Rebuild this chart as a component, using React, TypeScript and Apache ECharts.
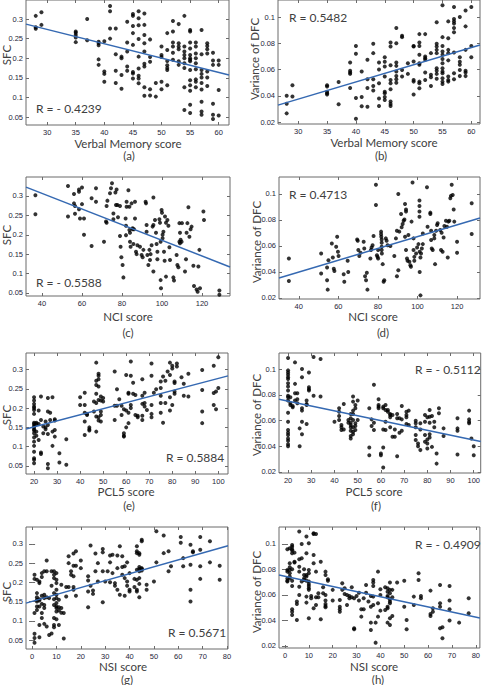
import React, { useEffect, useRef } from "react";
import * as echarts from "echarts";

// ---------- data ----------
const verbalSfc = [
  [28,0.308],[28,0.279],[28,0.275],[29,0.317],[29,0.285],
  [35,0.268],[35,0.265],[35,0.259],[35,0.253],[35,0.241],
  [37,0.30],[37,0.246],
  [39,0.242],[39,0.238],[39,0.233],[39,0.197],[39,0.183],
  [40,0.243],[40,0.166],[40,0.160],[40,0.14],
  [41,0.333],[41,0.32],[41,0.276],[41,0.25],
  [42,0.276],[42,0.21],[42,0.168],[42,0.137],
  [43,0.204],[43,0.20],[43,0.157],[43,0.122],
  [44,0.293],[44,0.24],[44,0.217],[44,0.179],[44,0.168],
  [45,0.313],[45,0.308],[45,0.282],[45,0.264],[45,0.234],[45,0.165],[45,0.161],[45,0.148],
  [46,0.32],[46,0.302],[46,0.284],[46,0.249],[46,0.204],[46,0.174],[46,0.155],[46,0.148],[46,0.136],
  [47,0.314],[47,0.285],[47,0.259],[47,0.238],[47,0.217],[47,0.186],[47,0.179],[47,0.126],[47,0.104],
  [48,0.248],[48,0.203],[48,0.191],[48,0.121],[48,0.105],
  [49,0.137],[49,0.102],
  [50,0.23],[50,0.208],[50,0.203],[50,0.14],[50,0.121],
  [51,0.264],[51,0.221],[51,0.193],[51,0.182],[51,0.175],[51,0.17],[51,0.131],
  [52,0.295],[52,0.268],[52,0.24],[52,0.23],[52,0.214],[52,0.196],
  [53,0.287],[53,0.238],[53,0.23],[53,0.223],[53,0.192],[53,0.183],
  [54,0.308],[54,0.23],[54,0.217],[54,0.208],[54,0.2],[54,0.187],[54,0.175],[54,0.126],[54,0.068],
  [55,0.272],[55,0.268],[55,0.24],[55,0.225],[55,0.208],[55,0.2],[55,0.196],[55,0.192],[55,0.17],[55,0.144],[55,0.131],[55,0.117],[55,0.081],[55,0.06],
  [56,0.24],[56,0.23],[56,0.212],[56,0.2],[56,0.187],[56,0.172],[56,0.146],[56,0.14],[56,0.126],
  [57,0.272],[57,0.21],[57,0.17],[57,0.16],[57,0.151],[57,0.137],[57,0.12],[57,0.089],[57,0.064],[57,0.056],
  [58,0.238],[58,0.231],[58,0.223],[58,0.212],[58,0.166],[58,0.151],[58,0.129],
  [59,0.214],[59,0.194],[59,0.183],[59,0.084],[59,0.056],[59,0.045],
  [60,0.194],[60,0.183],[60,0.119],[60,0.054],
];

const verbalDfc = [
  [28,0.040],[28,0.034],[28,0.0266],[29,0.048],[29,0.0394],
  [35,0.048],[35,0.047],[35,0.043],[35,0.042],[35,0.041],
  [37,0.0505],[37,0.0335],
  [39,0.0653],[39,0.059],[39,0.0577],[39,0.0567],[39,0.046],
  [40,0.078],[40,0.072],[40,0.0383],[40,0.0225],
  [41,0.0585],[41,0.039],[41,0.032],
  [42,0.0674],[42,0.0526],[42,0.046],[42,0.0317],
  [43,0.0796],[43,0.0725],[43,0.0526],[43,0.0475],[43,0.044],
  [44,0.0653],[44,0.060],[44,0.0496],[44,0.038],[44,0.0322],
  [45,0.0694],[45,0.066],[45,0.0623],[45,0.0547],[45,0.043],[45,0.042],[45,0.039],[45,0.0368],
  [46,0.0806],[46,0.0776],[46,0.0633],[46,0.052],[46,0.0496],[46,0.045],[46,0.0356],[46,0.0338],[46,0.0322],
  [47,0.0916],[47,0.080],[47,0.0653],[47,0.0628],[47,0.0585],[47,0.055],[47,0.0526],[47,0.050],
  [48,0.0857],[48,0.0847],[48,0.0597],[48,0.0547],
  [49,0.0648],[49,0.0567],
  [50,0.078],[50,0.0776],[50,0.0661],[50,0.052],[50,0.0508],[50,0.041],
  [51,0.087],[51,0.0806],[51,0.078],[51,0.0712],[51,0.0648],[51,0.0636],[51,0.0508],[51,0.0496],[51,0.0457],
  [52,0.087],[52,0.070],[52,0.0687],[52,0.0674],[52,0.0577],[52,0.052],
  [53,0.0725],[53,0.056],[53,0.0541],[53,0.0475],
  [54,0.096],[54,0.0796],[54,0.0776],[54,0.075],[54,0.0725],[54,0.061],[54,0.059],[54,0.0567],[54,0.053],
  [55,0.109],[55,0.0847],[55,0.078],[55,0.0738],[55,0.0712],[55,0.068],[55,0.0648],[55,0.061],[55,0.0585],[55,0.0572],[55,0.0534],[55,0.0508],[55,0.049],
  [56,0.0967],[56,0.0839],[56,0.075],[56,0.0725],[56,0.067],[56,0.0547],[56,0.052],[56,0.0508],
  [57,0.1076],[57,0.0985],[57,0.0967],[57,0.095],[57,0.0916],[57,0.0885],[57,0.073],[57,0.0572],[57,0.0526],
  [58,0.100],[58,0.0694],[58,0.066],[58,0.0636],[58,0.0597],[58,0.055],
  [59,0.105],[59,0.0929],[59,0.075],[59,0.059],[59,0.0577],[59,0.055],
  [60,0.1076],[60,0.078],[60,0.0694],
];

const nciSfc = [
  [36.7,0.302],[36.7,0.253],[53,0.326],[53,0.247],
  [56,0.305],[56,0.281],[56.5,0.274],[56.5,0.254],
  [58.5,0.317],[58.5,0.311],[58.5,0.266],[59,0.242],
  [60,0.322],[60,0.279],[61,0.242],[61,0.20],
  [64.8,0.294],[64.8,0.171],[67,0.32],[67,0.285],
  [71,0.182],[72,0.234],[72.3,0.231],[72.3,0.274],[72.7,0.288],
  [74,0.307],[74.5,0.32],[75,0.333],[75.7,0.255],[75.7,0.24],
  [76.7,0.309],[77,0.277],[77.3,0.317],[77.7,0.277],[78,0.245],
  [79,0.274],[79,0.197],[79.3,0.169],[79.7,0.142],[80.3,0.122],[80.7,0.09],
  [81.8,0.242],[82,0.223],[82,0.199],[82.3,0.285],[82.3,0.272],
  [83.2,0.315],[83.7,0.272],[83.7,0.212],[84,0.205],[84,0.182],[84.3,0.169],
  [84.8,0.281],[85.3,0.214],[85.3,0.217],[85.7,0.176],[86,0.214],
  [86.5,0.285],[86.5,0.242],[87,0.156],[87.3,0.15],[87.7,0.173],
  [89,0.169],[89.8,0.148],[90.3,0.142],[90.7,0.161],
  [91.8,0.285],[92,0.281],[92.3,0.225],[92.3,0.208],[92.7,0.148],[93.2,0.122],
  [93.7,0.161],[94,0.135],[94.3,0.15],[94.8,0.173],[95.3,0.221],[95.7,0.296],[95.7,0.225],[95.7,0.105],
  [96.5,0.238],[97,0.205],[97.3,0.176],[97.7,0.156],[97.7,0.137],
  [98.7,0.24],[99,0.231],[99.3,0.182],[99.3,0.083],[99.5,0.062],[99.8,0.264],[100,0.257],
  [100.3,0.2],[100.3,0.191],[100.7,0.208],[101,0.156],[101.3,0.133],[101.5,0.247],[102,0.231],[102,0.092],
  [102.7,0.238],[103.2,0.223],[103.7,0.168],[104,0.135],
  [105.7,0.09],[106,0.082],
  [107.3,0.148],[107.7,0.122],[108.2,0.116],[108.7,0.23],[108.7,0.182],[109,0.205],[109,0.178],[109.3,0.187],[109.8,0.182],[110,0.23],
  [111.5,0.105],[112,0.137],[112.3,0.205],[112.7,0.23],[113.2,0.271],[113.7,0.195],
  [114.3,0.214],[114.8,0.221],[115.7,0.12],[116,0.068],[117.3,0.059],[117.8,0.053],[118.2,0.118],[118.7,0.161],[119,0.062],
  [120.7,0.26],[121,0.238],
  [128.7,0.056],[128.7,0.045],
];

const nciDfc = [
  [35,0.0504],[35,0.0331],[51.3,0.0542],[51.3,0.0388],
  [54.3,0.0434],[55,0.049],[54.3,0.0336],[54.6,0.0264],
  [56.7,0.0619],[57.2,0.0511],[57.7,0.0424],[58,0.0408],
  [58.9,0.0594],[59.4,0.067],[59.8,0.0555],[60.1,0.0522],
  [62.7,0.0383],[63,0.0324],[64.7,0.0486],[65,0.040],
  [69.5,0.065],[69.8,0.064],[70.1,0.0568],[70.6,0.0522],[71.2,0.0547],
  [72.8,0.0632],[73.1,0.058],[73.5,0.0367],[74,0.0336],[74.4,0.0393],[74.7,0.0264],
  [76.2,0.0504],[76.5,0.0568],[76.8,0.0588],[77.3,0.0606],[77.8,0.0676],
  [79,0.107],[79,0.0915],[79.5,0.0529],[79.8,0.0516],[80.1,0.0568],[80.1,0.0504],
  [81.6,0.071],[81.6,0.069],[81.7,0.067],[81.9,0.065],[81.9,0.0624],[81.9,0.0594],[81.9,0.0568],[82,0.0542],[82.4,0.046],[82.9,0.0324],[83.2,0.0336],
  [84,0.0658],[84.4,0.064],[84.9,0.0606],[86.3,0.0599],
  [88.3,0.0522],[89.1,0.0658],[89.6,0.0717],[89.6,0.0367],[90.3,0.0413],[90.3,0.1],[90.8,0.071],
  [91.7,0.0846],[92,0.0743],[92.5,0.0769],[93,0.0794],[93.4,0.0804],[93.7,0.0923],[94.2,0.088],[94.2,0.0864],[93.7,0.067],[94.2,0.0568],[94.7,0.0504],
  [95,0.0486],[95.4,0.0684],[95.9,0.0478],[96.4,0.0452],[96.7,0.044],[97,0.0787],[97.5,0.1087],[98,0.0658],[98,0.0568],[98.4,0.0516],[98.4,0.0486],
  [99.3,0.0542],[99.8,0.0588],[100.5,0.0614],[101,0.0949],[101,0.0907],[101,0.0864],[101,0.0825],[101.1,0.0555],[101.5,0.0511],[101.1,0.040],[101.5,0.022],[101.8,0.0542],[102.2,0.0581],[102.7,0.0614],[102.7,0.0696],
  [104.8,0.1051],[105.1,0.0748],
  [106.5,0.0856],[106.5,0.0846],[106.9,0.0717],[106.9,0.0645],[107.2,0.058],[107.7,0.0568],
  [108.5,0.0684],[108.5,0.0658],[108.9,0.046],[109.4,0.0717],[109.9,0.0761],[110.2,0.0774],
  [111.5,0.0722],[111.9,0.0568],[112.2,0.0702],[112.7,0.0555],[113.2,0.0665],[113.6,0.0753],
  [114.4,0.0794],[114.9,0.0748],[115.3,0.0511],[115.6,0.0787],[116.1,0.0794],
  [116.6,0.0967],[116.9,0.0985],[117.3,0.107],[117.8,0.0992],[118.3,0.088],[118.6,0.0787],
  [120,0.0632],[120,0.0547],
  [127.4,0.0928],[127.4,0.0691],
];

const pclSfc = [
  [20,0.228],[20,0.22],[20,0.211],[20,0.204],[20,0.2],[20,0.195],[20,0.185],[20,0.162],[20,0.159],[20,0.154],[20,0.15],[20,0.145],[20,0.142],[20,0.135],[20,0.124],[20,0.113],[20,0.102],[20,0.087],[20,0.07],[20,0.066],[20,0.057],
  [21,0.162],[21,0.159],[21,0.139],[21,0.128],
  [22,0.194],[22,0.159],[22,0.117],
  [23,0.23],[23,0.169],[23,0.085],[23,0.081],
  [24,0.152],[24,0.135],
  [25,0.165],[25,0.15],[25,0.145],
  [26,0.226],[26,0.191],[26,0.156],[26,0.133],[26,0.055],[26,0.044],
  [27,0.188],[27,0.169],
  [28,0.228],[28,0.139],[28,0.102],
  [29,0.171],[29,0.168],[29,0.143],[29,0.126],
  [31,0.083],[31,0.059],
  [34,0.119],[34,0.053],
  [40,0.228],[40,0.208],
  [42,0.24],[42,0.208],[42,0.188],[42,0.165],[42,0.13],
  [43,0.185],[43,0.182],
  [44,0.15],[44,0.145],[44,0.142],
  [46,0.217],[46,0.191],
  [47,0.318],[47,0.271],[47,0.26],[47,0.237],[47,0.213],[47,0.178],[47,0.139],
  [48,0.289],[48,0.284],[48,0.275],[48,0.256],[48,0.221],[48,0.176],[48,0.168],
  [49,0.23],[49,0.22],[49,0.191],[49,0.182],[49,0.165],
  [50,0.226],[50,0.217],
  [55,0.295],[55,0.206],[55,0.169],
  [56,0.249],[56,0.206],
  [57,0.223],
  [58,0.206],[58,0.182],
  [59,0.197],[59,0.135],[59,0.128],[59,0.126],
  [60,0.286],[60,0.194],[60,0.15],
  [61,0.24],[61,0.237],[61,0.188],[61,0.161],
  [62,0.321],[62,0.284],[62,0.208],[62,0.2],
  [63,0.266],[63,0.237],
  [64,0.234],[64,0.182],
  [65,0.18],[65,0.176],
  [67,0.275],[67,0.232],[67,0.211],[67,0.18],[67,0.169],
  [68,0.24],[68,0.213],[68,0.204],
  [69,0.195],
  [71,0.316],[71,0.284],[71,0.208],[71,0.185],[71,0.176],
  [72,0.24],[73,0.249],
  [75,0.269],[75,0.252],[75,0.232],[75,0.213],[75,0.188],
  [76,0.282],[76,0.162],
  [77,0.271],[77,0.213],
  [78,0.295],
  [79,0.318],[79,0.286],[79,0.228],[79,0.194],
  [80,0.31],[80,0.303],[80,0.208],
  [81,0.269],[81,0.265],[81,0.243],[81,0.237],
  [82,0.316],[82,0.308],
  [84,0.28],
  [85,0.263],[85,0.232],
  [87,0.289],[87,0.23],
  [93,0.299],[93,0.247],[93,0.191],[93,0.161],
  [98,0.31],[98,0.239],[98,0.208],
  [99,0.243],[99,0.197],
  [100,0.332],[100,0.252],
];

const pclDfc = [
  [20,0.1086],[20,0.099],[20,0.0974],[20,0.0956],[20,0.0937],[20,0.0922],[20,0.089],[20,0.0865],[20,0.0833],[20,0.0792],[20,0.0781],[20,0.0755],[20,0.0661],[20,0.0591],[20,0.0526],[20,0.0505],[20,0.0487],[20,0.046],[20,0.0442],[20,0.0416],[20,0.04],
  [21,0.0781],[21,0.0734],[21,0.0721],
  [22,0.0713],[22,0.0703],
  [23,0.1052],[23,0.0885],[23,0.0812],[23,0.0755],
  [24,0.0812],[24,0.0765],[24,0.0734],
  [25,0.0539],[25,0.04],
  [26,0.1],[26,0.0937],[26,0.0695],[26,0.0677],[26,0.0591],[26,0.0494],
  [28,0.0755],[28,0.0729],[28,0.0721],[28,0.0573],
  [29,0.0974],[29,0.0859],[29,0.0844],[29,0.0833],
  [31,0.1094],[31,0.0792],
  [34,0.1078],[34,0.0786],
  [40,0.0591],
  [42,0.0695],[42,0.0669],[42,0.0635],[42,0.0604],
  [43,0.0565],[43,0.0547],[43,0.0526],
  [44,0.0729],[44,0.0531],
  [46,0.0604],[46,0.0583],
  [47,0.0651],[47,0.0617],[47,0.0583],[47,0.0565],[47,0.0547],[47,0.0521],[47,0.0479],[47,0.046],
  [48,0.0786],[48,0.0747],[48,0.0677],[48,0.0651],[48,0.0604],[48,0.0547],[48,0.0513],[48,0.0494],
  [49,0.0721],[49,0.0695],[49,0.0578],[49,0.0557],[49,0.0526],
  [50,0.0755],[50,0.0604],
  [55,0.0695],[55,0.039],[55,0.033],
  [56,0.0609],[56,0.0557],
  [57,0.0878],[57,0.0583],[57,0.0526],
  [59,0.0765],[59,0.0721],[59,0.0708],[59,0.0695],
  [60,0.0343],[60,0.033],
  [61,0.0708],[61,0.0695],[61,0.0531],[61,0.039],[61,0.0234],
  [62,0.0721],[62,0.0682],[62,0.0591],[62,0.0526],
  [63,0.0682],[63,0.0669],
  [64,0.0651],[64,0.0643],[64,0.0625],[64,0.0547],
  [65,0.0643],[65,0.0474],
  [66,0.0531],[66,0.0474],
  [67,0.0651],[67,0.0617],[67,0.0322],
  [68,0.0617],[68,0.0505],
  [69,0.0713],[69,0.0609],[69,0.0521],
  [71,0.0669],[71,0.0643],[71,0.0625],[71,0.0573],
  [72,0.0677],[72,0.0565],
  [75,0.0599],[75,0.0578],[75,0.0547],[75,0.0487],[75,0.0448],
  [76,0.0421],[76,0.04],
  [77,0.0578],[77,0.0531],[77,0.037],
  [79,0.0643],[79,0.0591],[79,0.0487],[79,0.0435],
  [80,0.0625],[80,0.0453],[80,0.0421],[80,0.0383],
  [81,0.0682],[81,0.063],[81,0.0583],[81,0.0494],[81,0.0468],
  [82,0.0635],[82,0.0395],
  [83,0.0591],[83,0.0547],
  [84,0.0343],[84,0.0265],
  [85,0.0695],[85,0.0656],
  [87,0.0539],[87,0.0479],
  [93,0.0617],[93,0.0539],[93,0.0521],[93,0.0336],
  [98,0.0677],[98,0.0609],[98,0.0591],[98,0.0578],
  [99,0.046],
  [100,0.04],[100,0.033],
];

const nsiSfc = [
  [1,0.22],[1,0.209],[1,0.12],[1,0.066],[1,0.055],[1,0.043],
  [2,0.207],[2,0.172],[2,0.161],[2,0.155],[2,0.15],[2,0.137],[2,0.128],
  [3,0.202],[3,0.198],[3,0.156],[3,0.153],[3,0.137],[3,0.089],[3,0.057],
  [4,0.224],[4,0.214],[4,0.165],[4,0.144],[4,0.12],[4,0.107],
  [5,0.229],[5,0.168],[5,0.159],[5,0.141],[5,0.133],[5,0.092],
  [6,0.257],[6,0.229],[6,0.161],[6,0.085],
  [7,0.159],[7,0.063],
  [8,0.229],[8,0.191],[8,0.067],
  [9,0.229],[9,0.22],[9,0.211],[9,0.172],[9,0.156],[9,0.141],[9,0.107],[9,0.089],[9,0.083],
  [10,0.224],[10,0.207],[10,0.198],[10,0.181],[10,0.168],[10,0.159],[10,0.146],[10,0.137],[10,0.133],[10,0.124],[10,0.104],
  [11,0.155],[11,0.135],[11,0.127],[11,0.089],
  [12,0.194],[12,0.133],[12,0.121],
  [13,0.12],[13,0.054],
  [14,0.188],[14,0.163],
  [15,0.268],[15,0.25],[15,0.188],
  [16,0.229],[16,0.22],
  [17,0.275],[17,0.243],[17,0.216],[17,0.188],[17,0.181],
  [18,0.281],[18,0.243],[18,0.165],
  [20,0.257],[20,0.237],
  [23,0.216],[23,0.205],[23,0.176],[23,0.135],
  [24,0.296],[24,0.191],
  [25,0.179],[25,0.17],
  [26,0.275],[26,0.229],
  [27,0.25],[27,0.202],
  [29,0.287],[29,0.278],[29,0.229],[29,0.148],
  [30,0.202],[31,0.229],
  [32,0.27],[32,0.252],[32,0.2],
  [33,0.272],[33,0.224],
  [34,0.198],[34,0.191],
  [35,0.27],[35,0.237],[35,0.181],
  [36,0.294],[36,0.168],
  [37,0.268],[37,0.24],[37,0.22],
  [38,0.242],[38,0.211],[38,0.165],
  [39,0.252],[39,0.202],[39,0.191],
  [40,0.224],[40,0.181],[40,0.176],
  [42,0.209],[42,0.188],
  [43,0.294],[43,0.281],[43,0.276],[43,0.233],[43,0.207],[43,0.181],[43,0.176],
  [44,0.276],[44,0.272],[44,0.24],[44,0.235],[44,0.229],[44,0.211],[44,0.196],[44,0.161],
  [45,0.311],[45,0.307],[45,0.237],[45,0.235],[45,0.231],
  [47,0.194],[47,0.181],
  [50,0.202],
  [51,0.333],[51,0.252],
  [54,0.322],[54,0.276],
  [56,0.281],[56,0.229],
  [57,0.242],
  [61,0.318],[61,0.303],
  [62,0.263],[62,0.242],
  [65,0.298],[65,0.246],[65,0.181],[65,0.15],
  [66,0.281],[66,0.278],
  [69,0.318],[69,0.285],[69,0.242],[69,0.209],
  [73,0.307],[73,0.252],
  [77,0.243],[77,0.207],
];

const nsiDfc = [
  [1,0.0958],[1,0.0796],[1,0.0783],[1,0.073],[1,0.0712],[1,0.0705],
  [2,0.0966],[2,0.0848],[2,0.0817],[2,0.0796],[2,0.077],[2,0.0744],[2,0.073],
  [3,0.0992],[3,0.0979],[3,0.0958],[3,0.0948],[3,0.0927],[3,0.0801],[3,0.0712],[3,0.0671],[3,0.0488],[3,0.0469],[3,0.0443],
  [4,0.0932],[4,0.0861],[4,0.0854],
  [5,0.0548],[5,0.0529],[5,0.0404],
  [6,0.1097],[6,0.088],[6,0.0822],[6,0.0783],[6,0.0665],[6,0.06],
  [7,0.1],[7,0.0888],[7,0.0705],
  [8,0.0801],[8,0.0757],[8,0.073],[8,0.0718],
  [9,0.1058],[9,0.0927],[9,0.0757],[9,0.0744],[9,0.0712],[9,0.0587],[9,0.054],
  [10,0.1005],[10,0.0796],[10,0.077],[10,0.0705],[10,0.0686],[10,0.0671],[10,0.0652],[10,0.064],[10,0.0417],
  [11,0.0592],[11,0.0574],
  [12,0.1084],[12,0.1078],[12,0.0914],[12,0.0848],[12,0.0496],
  [13,0.1078],[13,0.0783],[13,0.0582],[13,0.0522],
  [14,0.0613],[14,0.0582],
  [15,0.0861],[15,0.0409],
  [16,0.066],[16,0.0613],
  [17,0.0783],[17,0.0757],[17,0.06],[17,0.0556],[17,0.0529],[17,0.0514],[17,0.0503],
  [18,0.0723],[18,0.0712],
  [20,0.064],[20,0.0556],
  [23,0.0561],[23,0.0508],[23,0.0488],[23,0.0469],
  [24,0.0691],[24,0.064],
  [25,0.0652],[25,0.0608],
  [26,0.06],[26,0.0522],
  [27,0.0592],[27,0.0574],
  [28,0.066],[28,0.0582],
  [29,0.0574],[29,0.0339],[29,0.0331],
  [30,0.0592],
  [31,0.0618],[31,0.0556],
  [32,0.0488],[32,0.043],
  [33,0.0574],[33,0.0488],
  [34,0.0678],[34,0.0618],
  [35,0.0548],
  [36,0.0592],[36,0.0508],[36,0.0383],[36,0.0325],
  [37,0.0718],[37,0.0697],[37,0.0671],[37,0.0587],[37,0.0522],
  [38,0.0383],[38,0.0226],
  [39,0.0783],[39,0.0535],[39,0.043],
  [40,0.0644],[40,0.06],[40,0.0477],
  [42,0.066],[42,0.0482],
  [43,0.0652],[43,0.0626],[43,0.0592],[43,0.0582],[43,0.0508],[43,0.0496],[43,0.0383],
  [44,0.0697],[44,0.064],[44,0.0613],[44,0.0566],[44,0.0548],[44,0.0535],[44,0.0417],[44,0.0365],
  [45,0.064],[45,0.0582],[45,0.0435],
  [47,0.0697],
  [50,0.0712],[50,0.0508],
  [51,0.0404],[51,0.0331],
  [54,0.0587],[54,0.0522],
  [56,0.077],[56,0.0718],
  [57,0.0592],[57,0.0574],
  [61,0.0634],[61,0.0451],[61,0.0435],
  [62,0.0496],[62,0.0469],
  [65,0.0678],[65,0.0535],[65,0.0508],[65,0.0339],
  [66,0.0346],[66,0.026],
  [69,0.0671],[69,0.0556],[69,0.0488],[69,0.0399],
  [73,0.0383],
  [77,0.0574],[77,0.0456],
];

// regression line end points
const fitA = [[26.3,0.287],[61.8,0.157]];
const fitB = [[26.5,0.0329],[61.5,0.0787]];
const fitC = [[32,0.323],[134,0.117]];
const fitD = [[30,0.0354],[131.6,0.0815]];
const fitE = [[16.5,0.146],[104.2,0.2836]];
const fitF = [[16.1,0.0766],[103,0.0437]];
const fitG = [[-2.5,0.146],[80.4,0.295]];
const fitH = [[-2.5,0.0757],[81.7,0.042]];

// tick labels
const ticksVerbal = [30,35,40,45,50,55,60];
const ticksNci = [40,60,80,100,120];
const ticksPcl = [20,30,40,50,60,70,80,90,100];
const ticksNsi = [0,10,20,30,40,50,60,70,80];
const ticksSfc = [0.05,0.1,0.15,0.2,0.25,0.3];
const ticksDfc = [0.02,0.04,0.06,0.08,0.1];

const rLabels = ["R = - 0.4239","R = 0.5482","R = - 0.5588","R = 0.4713","R = 0.5884","R = - 0.5112","R = 0.5671","R = - 0.4909"];
const xTitles = ["Verbal Memory score","Verbal Memory score","NCI score","NCI score","PCL5 score","PCL5 score","NSI score","NSI score"];
const yTitles = ["SFC","Variance of DFC","SFC","Variance of DFC","SFC","Variance of DFC","SFC","Variance of DFC"];
const panelTags = ["(a)","(b)","(c)","(d)","(e)","(f)","(g)","(h)"];

// ---------- layout ----------
const panels = [
  { data: verbalSfc, fit: fitA, x: [26.3,61.8], y: [0.0296,0.3485], xt: ticksVerbal, yt: ticksSfc,
    g: { left: 26, top: 0, width: 203, height: 125 }, r: [36,108], xl: [128,143], tag: [129,155], yl: [6,55] },
  { data: verbalDfc, fit: fitB, x: [26.5,61.5], y: [0.0185,0.113], xt: ticksVerbal, yt: ticksDfc,
    g: { left: 278, top: 0, width: 202, height: 124 }, r: [289,17], xl: [384,142], tag: [381,155], yl: [254,59] },
  { data: nciSfc, fit: fitC, x: [32,134], y: [0.042,0.349], xt: ticksNci, yt: ticksSfc,
    g: { left: 26, top: 177, width: 204, height: 119 }, r: [36,282], xl: [128,316], tag: [128,332], yl: [6,235] },
  { data: nciDfc, fit: fitD, x: [30,131.6], y: [0.0192,0.113], xt: ticksNci, yt: ticksDfc,
    g: { left: 279, top: 177, width: 201, height: 122 }, r: [289,194], xl: [373,316], tag: [383,332], yl: [256,242] },
  { data: pclSfc, fit: fitE, x: [16.5,104.2], y: [0.029,0.343], xt: ticksPcl, yt: ticksSfc,
    g: { left: 26, top: 353, width: 202, height: 121 }, r: [166,457], xl: [126,491], tag: [129,505], yl: [6,415] },
  { data: pclDfc, fit: fitF, x: [16.1,103], y: [0.0192,0.1125], xt: ticksPcl, yt: ticksDfc,
    g: { left: 279, top: 353, width: 202, height: 120 }, r: [415,369], xl: [374,491], tag: [376,505], yl: [256,415] },
  { data: nsiSfc, fit: fitG, x: [-2.5,80.4], y: [0.0266,0.344], xt: ticksNsi, yt: ticksSfc,
    g: { left: 26, top: 527, width: 202, height: 122 }, r: [168,632], xl: [123,666], tag: [127,679], yl: [6,592] },
  { data: nsiDfc, fit: fitH, x: [-2.5,81.7], y: [0.0184,0.1133], xt: ticksNsi, yt: ticksDfc,
    g: { left: 279, top: 527, width: 203, height: 121 }, r: [415,544], xl: [374,666], tag: [378,679], yl: [256,592] },
];

const AXIS_COLOR = "#6b6b6b";
const LABEL_COLOR = "#262638";
const TEXT_COLOR = "#404040";
const FONT = "Lato";
const fmt = (v: number) => String(parseFloat(Number(v).toFixed(3)));

function buildOption() {
  const grid: any[] = [];
  const xAxis: any[] = [];
  const yAxis: any[] = [];
  const series: any[] = [];
  const graphic: any[] = [];

  panels.forEach((p, i) => {
    grid.push({ ...p.g, show: true, borderColor: AXIS_COLOR, borderWidth: 1, backgroundColor: "transparent" });
    const tick = (vals: number[]) => ({ show: true, inside: true, length: 3, customValues: vals, lineStyle: { color: AXIS_COLOR, width: 1 } });
    ["bottom", "top"].forEach((pos) => {
      xAxis.push({
        gridIndex: i, type: "value", position: pos, min: p.x[0], max: p.x[1],
        axisLine: { show: false }, splitLine: { show: false },
        axisTick: tick(p.xt),
        axisLabel: pos === "bottom"
          ? { show: true, customValues: p.xt, fontSize: 7.5, color: LABEL_COLOR, margin: 3, fontFamily: "Liberation Sans", formatter: fmt }
          : { show: false },
      });
    });
    ["left", "right"].forEach((pos) => {
      yAxis.push({
        gridIndex: i, type: "value", position: pos, min: p.y[0], max: p.y[1],
        axisLine: { show: false }, splitLine: { show: false },
        axisTick: tick(p.yt),
        axisLabel: pos === "left"
          ? { show: true, customValues: p.yt, fontSize: 7.5, color: LABEL_COLOR, margin: 3, fontFamily: "Liberation Sans", formatter: fmt }
          : { show: false },
      });
    });
    series.push({
      type: "scatter", xAxisIndex: i * 2, yAxisIndex: i * 2, data: p.data,
      symbol: "circle", symbolSize: 4, itemStyle: { color: "#000" }, silent: true,
    });
    series.push({
      type: "line", xAxisIndex: i * 2, yAxisIndex: i * 2, data: p.fit,
      showSymbol: false, symbol: "none", lineStyle: { color: "#3569b2", width: 1.5 }, silent: true,
    });
    graphic.push({ type: "text", x: p.r[0], y: p.r[1], style: { text: rLabels[i], font: `12px ${FONT}`, fill: TEXT_COLOR, align: "left", verticalAlign: "middle" } });
    graphic.push({ type: "text", x: p.xl[0], y: p.xl[1], style: { text: xTitles[i], font: `11.5px ${FONT}`, fill: TEXT_COLOR, align: "center", verticalAlign: "middle" } });
    graphic.push({ type: "text", x: p.tag[0], y: p.tag[1], style: { text: panelTags[i], font: `11.5px ${FONT}`, fill: TEXT_COLOR, align: "center", verticalAlign: "middle" } });
    graphic.push({ type: "text", x: p.yl[0], y: p.yl[1], rotation: Math.PI / 2, style: { text: yTitles[i], font: `11.5px ${FONT}`, fill: TEXT_COLOR, align: "center", verticalAlign: "middle" } });
  });

  return { animation: false, backgroundColor: "#ffffff", grid, xAxis, yAxis, series, graphic };
}

export default function App() {
  const ref = useRef<HTMLDivElement>(null);
  useEffect(() => {
    if (!ref.current) return;
    const chart = echarts.init(ref.current, undefined, { renderer: "svg" });
    chart.setOption(buildOption() as any);
    return () => chart.dispose();
  }, []);
  return <div ref={ref} style={{ position: "fixed", left: 0, top: 0, width: 483, height: 685 }} />;
}
